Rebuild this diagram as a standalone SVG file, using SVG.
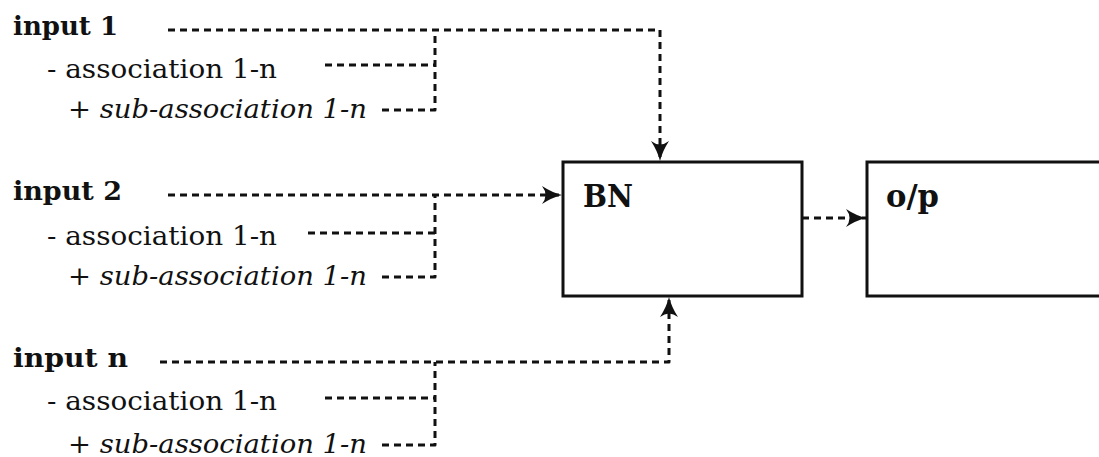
<svg xmlns="http://www.w3.org/2000/svg" width="1099" height="457" viewBox="0 0 1099 457">
  <defs>
    <style>
      .title { font-family: "DejaVu Serif", "Liberation Serif", serif; font-weight: bold; font-size: 26px; fill: #111; }
      .assoc { font-family: "DejaVu Serif", "Liberation Serif", serif; font-size: 26px; fill: #111; }
      .sub { font-family: "DejaVu Serif", "Liberation Serif", serif; font-size: 26px; fill: #111; }
      .sub tspan.it { font-style: italic; }
      .box { fill: #fff; stroke: #111; stroke-width: 3; }
      .boxlabel { font-family: "DejaVu Serif", "Liberation Serif", serif; font-weight: bold; font-size: 32px; fill: #111; }
      .dash { fill: none; stroke: #111; stroke-width: 3; stroke-dasharray: 7 5; stroke-linejoin: round; }
    </style>
    <!-- barbed arrowhead, tip at the path end -->
    <marker id="head" markerUnits="userSpaceOnUse" viewBox="-22 -11 24 22" refX="0" refY="0" markerWidth="24" markerHeight="22" orient="auto">
      <path d="M0,0 Q-10,-2.5 -20,-9 Q-13,0 -20,9 Q-10,2.5 0,0 Z" fill="#111"/>
    </marker>
  </defs>

  <rect width="1099" height="457" fill="#fff"/>

  <!-- input list -->
  <g id="input1">
    <text class="title" x="13" y="35" textLength="105" lengthAdjust="spacingAndGlyphs">input 1</text>
    <text class="assoc" x="47" y="78" textLength="230" lengthAdjust="spacingAndGlyphs">- association 1-n</text>
    <text class="sub" x="68" y="118" textLength="299" lengthAdjust="spacingAndGlyphs">+ <tspan class="it">sub-association 1-n</tspan></text>
  </g>
  <g id="input2">
    <text class="title" x="13" y="200" textLength="109" lengthAdjust="spacingAndGlyphs">input 2</text>
    <text class="assoc" x="47" y="245" textLength="230" lengthAdjust="spacingAndGlyphs">- association 1-n</text>
    <text class="sub" x="68" y="285" textLength="299" lengthAdjust="spacingAndGlyphs">+ <tspan class="it">sub-association 1-n</tspan></text>
  </g>
  <g id="inputn">
    <text class="title" x="13" y="367" textLength="115" lengthAdjust="spacingAndGlyphs">input n</text>
    <text class="assoc" x="47" y="410" textLength="230" lengthAdjust="spacingAndGlyphs">- association 1-n</text>
    <text class="sub" x="68" y="453" textLength="299" lengthAdjust="spacingAndGlyphs">+ <tspan class="it">sub-association 1-n</tspan></text>
  </g>

  <!-- processing boxes -->
  <g id="bn">
    <rect class="box" x="563" y="162" width="239" height="134"/>
    <text class="boxlabel" x="583" y="207" textLength="50" lengthAdjust="spacingAndGlyphs">BN</text>
  </g>
  <g id="op">
    <rect class="box" x="867" y="162" width="240" height="134"/>
    <text class="boxlabel" x="886" y="207" textLength="53" lengthAdjust="spacingAndGlyphs">o/p</text>
  </g>

  <!-- dashed connectors -->
  <g id="connectors">
    <path class="dash" d="M168,30 H660 V161" marker-end="url(#head)"/>
    <path class="dash" d="M382,110 H435 V30"/>
    <path class="dash" d="M325,65 H435"/>

    <path class="dash" d="M168,195 H562" marker-end="url(#head)"/>
    <path class="dash" d="M382,277 H435 V195"/>
    <path class="dash" d="M308,233 H435"/>

    <path class="dash" d="M160,362 H669 V297" marker-end="url(#head)"/>
    <path class="dash" d="M382,445 H435 V362"/>
    <path class="dash" d="M325,398 H435"/>

    <path class="dash" d="M802,218 H866" marker-end="url(#head)"/>
  </g>
</svg>
